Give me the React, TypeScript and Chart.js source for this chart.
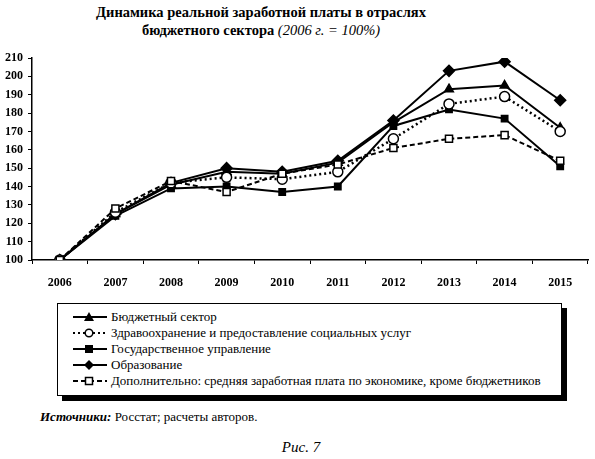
import React, { useRef, useEffect } from "react";
import Chart from "chart.js/auto";

const years = ["2006", "2007", "2008", "2009", "2010", "2011", "2012", "2013", "2014", "2015"];
const budget = [100, 125, 141, 148, 147, 153, 175, 193, 195, 172];
const health = [100, 126, 142, 145, 144, 148, 166, 185, 189, 170];
const gov = [100, 124, 139, 140, 137, 140, 173, 182, 177, 151];
const edu = [100, 125, 142, 150, 148, 154, 176, 203, 208, 187];
const extra = [100, 128, 143, 137, 147, 152, 161, 166, 168, 154];

const seriesNames = [
  "Бюджетный сектор",
  "Здравоохранение и предоставление социальных услуг",
  "Государственное управление",
  "Образование",
  "Дополнительно: средняя заработная плата по экономике, кроме бюджетников",
];

const serif = "'Liberation Serif', 'DejaVu Serif', serif";

function Marker({ kind }: { kind: number }) {
  const dash = kind === 1 ? "2 3" : kind === 4 ? "5 3" : undefined;
  let shape: React.ReactNode = null;
  if (kind === 0) shape = <polygon points="16,1 21,10 11,10" fill="#000" />;
  if (kind === 1) shape = <circle cx="16" cy="6" r="3.8" fill="#fff" stroke="#000" strokeWidth="1.5" />;
  if (kind === 2) shape = <rect x="12" y="2" width="8" height="8" fill="#000" />;
  if (kind === 3) shape = <polygon points="16,1 21,6 16,11 11,6" fill="#000" />;
  if (kind === 4) shape = <rect x="12.5" y="2.5" width="7" height="7" fill="#fff" stroke="#000" strokeWidth="1.5" />;
  return (
    <svg width="36" height="12" style={{ marginRight: 2, flex: "none" }}>
      <line x1="0" y1="6" x2="34" y2="6" stroke="#000" strokeWidth="2.2" strokeDasharray={dash} />
      {shape}
    </svg>
  );
}

export default function App() {
  const chartRef = useRef<HTMLCanvasElement | null>(null);
  const chartInstanceRef = useRef<Chart | null>(null);

  useEffect(() => {
    if (!chartRef.current) return;
    const ctx = chartRef.current.getContext("2d");
    if (!ctx) return;
    if (chartInstanceRef.current) chartInstanceRef.current.destroy();

    const base = {
      borderColor: "#000",
      pointBorderColor: "#000",
      borderWidth: 2,
      pointBorderWidth: 1.5,
      tension: 0,
    };

    chartInstanceRef.current = new Chart(ctx, {
      type: "line",
      data: {
        labels: years,
        datasets: [
          { ...base, label: seriesNames[0], data: budget, pointStyle: "triangle", pointRadius: 5, pointBackgroundColor: "#000", order: 2 },
          { ...base, label: seriesNames[1], data: health, borderDash: [2, 3], borderWidth: 2.5, pointStyle: "circle", pointRadius: 5, pointBackgroundColor: "#fff", order: 1 },
          { ...base, label: seriesNames[2], data: gov, pointStyle: "rect", pointRadius: 4.5, pointBackgroundColor: "#000", order: 3 },
          { ...base, label: seriesNames[3], data: edu, pointStyle: "rectRot", pointRadius: 5.5, pointBackgroundColor: "#000", order: 4 },
          { ...base, label: seriesNames[4], data: extra, borderDash: [5, 3], pointStyle: "rect", pointRadius: 5, pointBackgroundColor: "#fff", order: 0 },
        ],
      },
      options: {
        animation: false,
        responsive: false,
        layout: { padding: { top: 18, right: 2, left: 0, bottom: 0 } },
        plugins: {
          legend: { display: false },
          title: { display: false },
          tooltip: { enabled: false },
        },
        scales: {
          x: {
            offset: true,
            grid: { display: true, offset: true, drawOnChartArea: false, drawTicks: true, tickLength: 4, color: "#000", lineWidth: 1 },
            border: { display: true, color: "#000", width: 1.5 },
            ticks: { color: "#000", font: { family: serif, size: 12, weight: "bold" }, padding: 12, maxRotation: 0 },
            afterFit: (scale: any) => {
              scale.height = 30;
            },
          },
          y: {
            min: 100,
            max: 210,
            ticks: { stepSize: 10, color: "#000", font: { family: serif, size: 12, weight: "bold" }, padding: 5 },
            grid: { display: true, drawOnChartArea: false, drawTicks: true, tickLength: 4, color: "#000", lineWidth: 1 },
            border: { display: true, color: "#000", width: 1.5 },
            afterFit: (scale: any) => {
              scale.width = 32;
            },
          },
        },
      },
    } as any);

    return () => {
      if (chartInstanceRef.current) {
        chartInstanceRef.current.destroy();
        chartInstanceRef.current = null;
      }
    };
  }, []);

  return (
    <div style={{ position: "absolute", left: 0, top: 0, width: 595, height: 459, background: "#fff", fontFamily: serif, color: "#000" }}>
      <div style={{ position: "absolute", left: 0, width: 522, top: 3, textAlign: "center", fontWeight: "bold", fontSize: 14.5, lineHeight: "18px" }}>
        Динамика реальной заработной платы в отраслях
        <br />
        бюджетного сектора <span style={{ fontStyle: "italic", fontWeight: "normal" }}>(2006 г. = 100%)</span>
      </div>
      <canvas ref={chartRef} width={595} height={250} style={{ position: "absolute", left: 0, top: 40, width: 595, height: 250 }} />
      <div
        style={{
          position: "absolute",
          left: 57,
          top: 303,
          width: 488,
          height: 86,
          border: "1px solid #000",
          boxShadow: "5px 5px 0 #000",
          boxSizing: "content-box",
          paddingTop: 5,
          paddingLeft: 15,
          fontSize: 13,
          lineHeight: "16px",
        }}
      >
        {seriesNames.map((name, i) => (
          <div key={name} style={{ display: "flex", alignItems: "center", height: 16, whiteSpace: "nowrap" }}>
            <Marker kind={i} />
            <span>{name}</span>
          </div>
        ))}
      </div>
      <div style={{ position: "absolute", left: 40, top: 409, fontSize: 13 }}>
        <span style={{ fontStyle: "italic", fontWeight: "bold" }}>Источники:</span> Росстат; расчеты авторов.
      </div>
      <div style={{ position: "absolute", left: 0, width: 602, top: 439, textAlign: "center", fontSize: 15, fontStyle: "italic" }}>
        Рис. 7
      </div>
    </div>
  );
}
